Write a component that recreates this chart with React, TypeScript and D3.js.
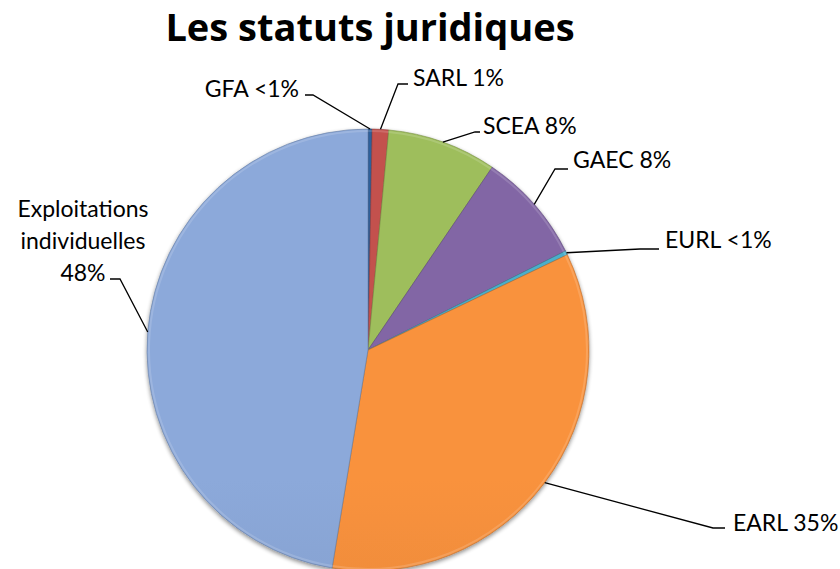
import { useEffect, useRef } from "react";
import * as d3 from "d3";

const categories = ["GFA", "SARL", "SCEA", "GAEC", "EURL", "EARL", "Exploitations individuelles"];
const shares = [0.3, 1.2, 8.0, 8.1, 0.3, 34.7, 47.4];
const labelLines = [
  ["GFA <1%"],
  ["SARL 1%"],
  ["SCEA 8%"],
  ["GAEC 8%"],
  ["EURL <1%"],
  ["EARL 35%"],
  ["Exploitations", "individuelles", "48%"],
];
const colors = ["#2E5E98", "#C0504D", "#9BBB59", "#8064A2", "#4BACC6", "#F58F3C", "#8AA6D6"];

// label placement (text anchor, leader elbow and end)
const labelLayout = [
  { x: 299, y: 97, anchor: "end", elbow: [313, 95], end: [305, 95] },
  { x: 413, y: 86, anchor: "start", elbow: [398, 84], end: [408, 84] },
  { x: 483, y: 134, anchor: "start", elbow: [475, 132], end: [480, 132] },
  { x: 573, y: 168, anchor: "start", elbow: [555, 169], end: [568, 169] },
  { x: 665, y: 248, anchor: "start", elbow: [640, 249], end: [659, 249] },
  { x: 733, y: 531, anchor: "start", elbow: [713, 528], end: [725, 528] },
  { x: 83, y: 217, anchor: "middle", elbow: [120, 279], end: [110, 279] },
];

const W = 840;
const H = 569;
const cx = 368;
const cy = 350;
const R = 221;

export default function App() {
  const svgRef = useRef<SVGSVGElement>(null);

  useEffect(() => {
    const svg = d3.select(svgRef.current);
    svg.selectAll("*").remove();

    const defs = svg.append("defs");
    colors.forEach((c, i) => {
      const g = defs
        .append("linearGradient")
        .attr("id", "grad" + i)
        .attr("gradientUnits", "userSpaceOnUse")
        .attr("x1", 0)
        .attr("y1", cy - R)
        .attr("x2", 0)
        .attr("y2", cy + R);
      g.append("stop").attr("offset", 0).attr("stop-color", d3.color(c)!.brighter(0.05).toString());
      g.append("stop").attr("offset", 1).attr("stop-color", d3.color(c)!.darker(0.4).toString());
    });
    const shadow = defs.append("filter").attr("id", "shadow").attr("x", -0.1).attr("y", -0.1).attr("width", 1.2).attr("height", 1.2);
    shadow.append("feGaussianBlur").attr("in", "SourceAlpha").attr("stdDeviation", 2);
    shadow.append("feOffset").attr("dy", 1.5).attr("result", "b");
    shadow.append("feComponentTransfer").append("feFuncA").attr("type", "linear").attr("slope", 0.45);
    const merge = shadow.append("feMerge");
    merge.append("feMergeNode");
    merge.append("feMergeNode").attr("in", "SourceGraphic");

    svg
      .append("text")
      .attr("x", 370)
      .attr("y", 41)
      .attr("text-anchor", "middle")
      .attr("font-family", "'Open Sans', Lato, sans-serif")
      .attr("font-weight", 700)
      .attr("font-size", 38)
      .attr("fill", "#000")
      .text("Les statuts juridiques");

    const pie = d3
      .pie<number>()
      .sort(null)
      .value((d) => d)
      .startAngle(0)
      .endAngle(2 * Math.PI);
    const arcs = pie(shares);
    const arc = d3.arc<d3.PieArcDatum<number>>().innerRadius(0).outerRadius(R);
    const bevel = d3.arc<d3.PieArcDatum<number>>().innerRadius(R - 3).outerRadius(R - 1);

    const g = svg.append("g").attr("transform", `translate(${cx},${cy})`);
    g.append("g")
      .attr("filter", "url(#shadow)")
      .selectAll("path")
      .data(arcs)
      .join("path")
      .attr("d", arc)
      .attr("fill", (_, i) => `url(#grad${i})`)
      .attr("stroke", (_, i) => d3.color(colors[i])!.darker(0.8).toString())
      .attr("stroke-width", 0.6)
      .attr("data-cat", (_, i) => categories[i]);

    // soft bevel highlight along the rim
    g.append("g")
      .selectAll("path")
      .data(arcs)
      .join("path")
      .attr("d", bevel)
      .attr("fill", "#fff")
      .attr("opacity", 0.15);

    // leader lines and labels
    const lines = svg.append("g");
    arcs.forEach((a, i) => {
      const mid = (a.startAngle + a.endAngle) / 2;
      const ex = cx + R * Math.sin(mid);
      const ey = cy - R * Math.cos(mid);
      const L = labelLayout[i];
      lines
        .append("path")
        .attr("d", d3.line()([[ex, ey], L.elbow as [number, number], L.end as [number, number]]))
        .attr("fill", "none")
        .attr("stroke", "#000")
        .attr("stroke-width", 1.3);
      const t = lines
        .append("text")
        .attr("x", L.x)
        .attr("y", L.y)
        .attr("text-anchor", L.anchor)
        .attr("font-family", "Lato, 'Open Sans', sans-serif")
        .attr("font-size", 23)
        .attr("fill", "#000");
      labelLines[i].forEach((s, k) => {
        t.append("tspan").attr("x", L.x).attr("dy", k === 0 ? 0 : 32).text(s);
      });
    });
  }, []);

  return (
    <svg
      ref={svgRef}
      width={W}
      height={H}
      style={{ position: "absolute", left: 0, top: 0, background: "#fff" }}
    />
  );
}
